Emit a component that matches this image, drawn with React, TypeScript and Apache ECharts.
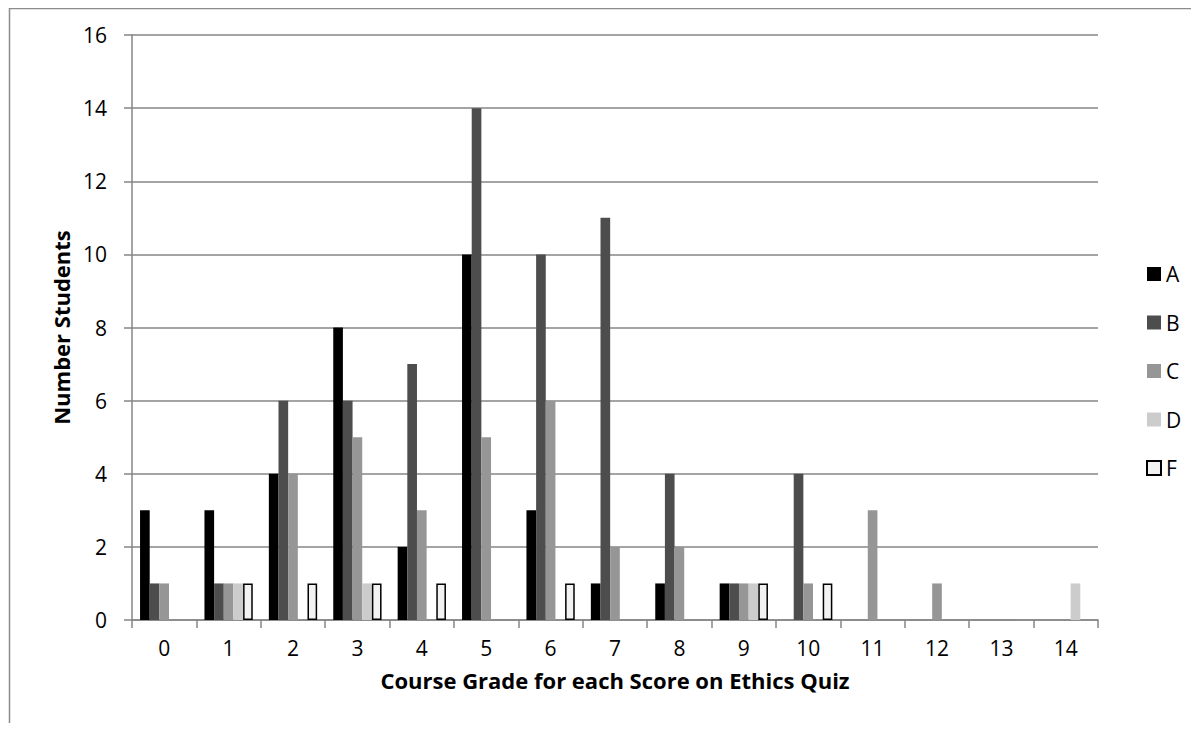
import React, { useEffect, useRef } from "react";
import * as echarts from "echarts";

const categories = ["0", "1", "2", "3", "4", "5", "6", "7", "8", "9", "10", "11", "12", "13", "14"];
const seriesNames = ["A", "B", "C", "D", "F"];
const valuesA = [3, 3, 4, 8, 2, 10, 3, 1, 1, 1, 0, 0, 0, 0, 0];
const valuesB = [1, 1, 6, 6, 7, 14, 10, 11, 4, 1, 4, 0, 0, 0, 0];
const valuesC = [1, 1, 4, 5, 3, 5, 6, 2, 2, 1, 1, 3, 1, 0, 0];
const valuesD = [0, 1, 0, 1, 0, 0, 0, 0, 0, 1, 0, 0, 0, 0, 1];
const valuesF = [0, 1, 1, 1, 1, 0, 1, 0, 0, 1, 1, 0, 0, 0, 0];
const xTitle = "Course Grade for each Score on Ethics Quiz";
const yTitle = "Number Students";

const FONT = "'Open Sans', 'Noto Sans', sans-serif";
const GRAY = "#868686";

export default function App() {
  const ref = useRef<HTMLDivElement>(null);
  useEffect(() => {
    if (!ref.current) return;
    const chart = echarts.init(ref.current, undefined, { renderer: "svg" });
    const allValues = [valuesA, valuesB, valuesC, valuesD, valuesF];
    const fills = ["#000000", "#4d4d4d", "#969696", "#cccccc", "#f2f2f2"];
    chart.setOption({
      animation: false,
      backgroundColor: "#ffffff",
      textStyle: { fontFamily: FONT },
      graphic: {
        elements: [
          {
            type: "polyline",
            left: 7,
            top: 6,
            shape: { points: [[0, 730], [0, 0], [1200, 0]] },
            style: { stroke: "#8c8c8c", lineWidth: 1.5, fill: null },
            silent: true,
            z: 100,
          },
        ],
      },
      legend: {
        orient: "vertical",
        left: 1141,
        top: 258,
        itemWidth: 14,
        itemHeight: 14,
        itemGap: 26.5,
        icon: "rect",
        textStyle: { fontFamily: FONT, fontSize: 21, color: "#000", lineHeight: 22 },
        data: seriesNames,
      },
      grid: { left: 132, right: 101, top: 35, bottom: 111, containLabel: false },
      xAxis: {
        type: "category",
        data: categories,
        boundaryGap: true,
        name: xTitle,
        nameLocation: "middle",
        nameGap: 49,
        nameTextStyle: { fontFamily: FONT, fontSize: 22, fontWeight: "bold", color: "#000" },
        axisLine: { lineStyle: { color: GRAY, width: 1.5 } },
        axisTick: { show: true, alignWithLabel: false, length: 8, lineStyle: { color: GRAY, width: 1.5 } },
        axisLabel: { fontFamily: FONT, fontSize: 21, color: "#000", margin: 17 },
      },
      yAxis: {
        type: "value",
        min: 0,
        max: 16,
        interval: 2,
        name: yTitle,
        nameLocation: "middle",
        nameGap: 53,
        nameTextStyle: { fontFamily: FONT, fontSize: 22, fontWeight: "bold", color: "#000" },
        axisLine: { show: true, lineStyle: { color: GRAY, width: 1.5 } },
        axisTick: { show: true, length: 8, lineStyle: { color: GRAY, width: 1.5 } },
        axisLabel: { fontFamily: FONT, fontSize: 21, color: "#000", margin: 25 },
        splitLine: { show: true, lineStyle: { color: GRAY, width: 1.5 } },
      },
      series: seriesNames.map((name, i) => ({
        name,
        type: "bar",
        data: allValues[i].map((v) => (v === 0 ? null : v)),
        barGap: "0%",
        barCategoryGap: "25%",
        itemStyle: {
          color: fills[i],
          borderColor: i === 4 ? "#000000" : fills[i],
          borderWidth: i === 4 ? 1.5 : 0,
        },
      })),
    });
    return () => chart.dispose();
  }, []);
  return <div ref={ref} style={{ width: 1199, height: 731, margin: -8 }} />;
}
